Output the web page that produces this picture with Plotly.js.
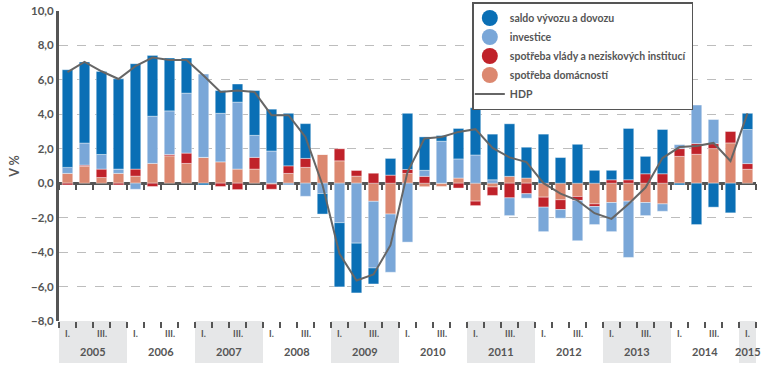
<!DOCTYPE html>
<html>
<head>
<meta charset="utf-8">
<script src="https://cdn.plot.ly/plotly-3.0.1.min.js"></script>
<style>
  html, body { margin: 0; padding: 0; background: #fff; }
  #chart { width: 770px; height: 369px; }
</style>
</head>
<body>
<div id="chart"></div>
<script>
// ---- data ----
const years = ['2005','2006','2007','2008','2009','2010','2011','2012','2013','2014','2015'];
const quarterTicks = ['I.', '', 'III.', ''];
const quarters = [];
years.forEach(y => { for (let q = 1; q <= 4; q++) quarters.push(y + ' Q' + q); });
quarters.length = 41; // 2005 Q1 .. 2015 Q1

const seriesNames = ['saldo vývozu a dovozu', 'investice', 'spotřeba vlády a neziskových institucí', 'spotřeba domácností', 'HDP'];

const households = [0.57, 0.99, 0.33, 0.57, 0.41, 1.15, 1.59, 1.15, 1.50, 1.24, 0.82, 0.82,
  -0.05, 0.57, 0.92, 1.67, 1.30, 0.41, -1.05, -1.79, 0.57, -0.20, -0.19, 0.30,
  -1.04, -0.22, 0.40, 0.30, -0.81, -0.96, -0.77, -1.20, -1.12, -1.04, -1.12, -1.20,
  1.56, 1.68, 2.01, 2.34, 0.81];
const government = [-0.10, 0.06, 0.49, -0.10, 0.41, -0.19, 0.08, 0.60, 0.00, -0.19, -0.37, 0.68,
  -0.30, 0.44, 0.52, 0.00, 0.70, 0.33, 0.58, 0.47, 0.23, 0.40, 0.00, -0.28,
  -0.26, -0.49, -0.85, -0.61, -0.58, -0.57, -0.23, -0.15, 0.20, 0.20, 0.55, 0.55,
  0.45, 0.62, 0.29, 0.68, 0.33];
const investment = [0.35, 1.28, 0.85, 0.25, -0.35, 2.74, 2.53, 3.48, 4.84, 2.82, 3.89, 1.28,
  1.87, -0.10, -0.76, -0.60, -2.29, -3.48, -3.87, -3.38, -3.42, 0.35, 2.44, 1.11,
  1.64, 0.20, -1.03, -0.26, -1.42, -0.50, -2.34, -1.05, -1.69, -3.27, -0.76, -0.43,
  0.23, 2.24, 1.40, 0.00, 1.98];
const netExports = [5.67, 4.71, 4.82, 5.24, 6.12, 3.53, 3.07, 2.04, -0.10, 1.32, 1.05, 2.60,
  2.43, 3.05, 2.02, -1.19, -3.73, -2.89, -0.93, 0.97, 3.26, 1.94, 0.33, 1.77,
  2.74, 2.65, 3.05, 1.79, 2.85, 1.49, 2.26, 0.75, 0.55, 2.98, 1.01, 2.57,
  -0.10, -2.40, -1.39, -1.72, 0.94];
const gdp = [6.45, 7.05, 6.50, 6.05, 6.80, 7.30, 7.15, 7.15, 6.25, 5.30, 5.38, 5.30,
  3.95, 3.95, 2.68, -0.10, -4.10, -5.65, -5.30, -3.60, 0.65, 2.60, 2.69, 2.98,
  3.14, 2.05, 1.50, 1.23, 0.00, -0.60, -1.00, -1.74, -2.07, -1.20, -0.25, 1.46,
  2.10, 2.16, 2.34, 1.29, 4.06];

// ---- styling ----
const C_EXP = '#0a6fb5', C_INV = '#7aa7d8', C_GOV = '#c0222a', C_HH = '#dc8870', C_LINE = '#666666';
const AX = '#555555';
const FONT = 'Lato, "Open Sans", sans-serif';

const W = 770, H = 369, MT = 2, MB = 48;
const PH = H - MT - MB;            // paper plotting height
const yTop = 1 - 9 / PH;           // y-axis domain top (plot top at 11px)

const xIdx = quarters.map((_, i) => i);
const edge = { color: 'rgba(255,255,255,0.4)', width: 1 };

function barTrace(vals, color, name) {
  return { type: 'bar', x: xIdx, y: vals, name: name, marker: { color: color, line: edge },
           showlegend: false, hoverinfo: 'y+name' };
}
function legendDot(color, name) {
  return { type: 'scatter', mode: 'markers', x: [null], y: [null], name: name,
           marker: { color: color, size: 16, symbol: 'circle' }, showlegend: true, hoverinfo: 'skip' };
}

const traces = [
  barTrace(households, C_HH, seriesNames[3]),
  barTrace(government, C_GOV, seriesNames[2]),
  barTrace(investment, C_INV, seriesNames[1]),
  barTrace(netExports, C_EXP, seriesNames[0]),
  legendDot(C_EXP, seriesNames[0]),
  legendDot(C_INV, seriesNames[1]),
  legendDot(C_GOV, seriesNames[2]),
  legendDot(C_HH, seriesNames[3]),
  { type: 'scatter', mode: 'lines', x: xIdx, y: gdp, name: seriesNames[4], xaxis: 'x2',
    line: { color: C_LINE, width: 2 }, showlegend: true }
];

const boundaries = xIdx.map(i => i - 0.5).concat([quarters.length - 0.5]);
const xr = [-0.5, quarters.length - 0.5];
const yRange = [-8, 10];
const zeroPos = yTop * (0 - yRange[0]) / (yRange[1] - yRange[0]);

// year bands + labels
const shapes = [];
const annotations = [];
years.forEach((y, k) => {
  const first = 4 * k;
  const last = Math.min(4 * k + 3, quarters.length - 1);
  if (k % 2 === 0) {
    shapes.push({ type: 'rect', xref: 'x', yref: 'paper', x0: first - 0.5, x1: last + 0.5,
                  y0: -42 / PH, y1: 0, fillcolor: '#e6e7e8', line: { width: 0 }, layer: 'below' });
  }
  annotations.push({ xref: 'x', yref: 'paper', x: (first + last) / 2, y: -30 / PH, text: y,
                     showarrow: false, yanchor: 'middle',
                     font: { family: FONT, size: 11, color: AX, weight: 'bold' } });
});
xIdx.forEach(i => {
  const t = quarterTicks[i % 4];
  if (t) annotations.push({ xref: 'x', yref: 'paper', x: i, y: -12 / PH, text: t, showarrow: false,
                            yanchor: 'middle', font: { family: FONT, size: 9, color: AX, weight: 'bold' } });
});

const layout = {
  width: W, height: H,
  margin: { l: 59, r: 14, t: MT, b: MB },
  paper_bgcolor: '#fff', plot_bgcolor: 'rgba(0,0,0,0)',
  barmode: 'relative', bargap: 0.38,
  font: { family: FONT, color: AX },
  separators: ',.',
  xaxis: { range: xr, showgrid: false, zeroline: false, showline: false,
           tickmode: 'array', tickvals: boundaries, ticks: 'outside', ticklen: 6, tickwidth: 2,
           tickcolor: AX, showticklabels: false, fixedrange: true },
  xaxis2: { range: xr, overlaying: 'x', anchor: 'free', position: zeroPos, side: 'bottom',
            showgrid: false, zeroline: false, showline: false,
            tickmode: 'array', tickvals: boundaries, ticks: 'outside', ticklen: 6, tickwidth: 2,
            tickcolor: AX, showticklabels: false },
  yaxis: { range: yRange, domain: [0, yTop], dtick: 2, tick0: 0, tickformat: '.1f',
           showgrid: true, gridcolor: '#bdbdbd', griddash: 'dash', gridwidth: 1,
           zeroline: true, zerolinecolor: AX, zerolinewidth: 3,
           showline: true, linecolor: AX, linewidth: 3, ticks: '',
           tickfont: { family: FONT, size: 11.5, color: AX, weight: 'bold' },
           title: { text: 'V %', standoff: 9, font: { family: FONT, size: 12.5, color: AX, weight: 'bold' } } },
  legend: { x: 0.593, y: 1, xanchor: 'left', yanchor: 'top', indentation: -4,
            bgcolor: '#fff', bordercolor: AX, borderwidth: 1.5,
            font: { family: FONT, size: 10.5, color: AX, weight: 'bold' },
            traceorder: 'normal', tracegroupgap: 0 },
  shapes: shapes,
  annotations: annotations,
  showlegend: true
};

Plotly.newPlot('chart', traces, layout, { displayModeBar: false, staticPlot: true });
</script>
</body>
</html>
